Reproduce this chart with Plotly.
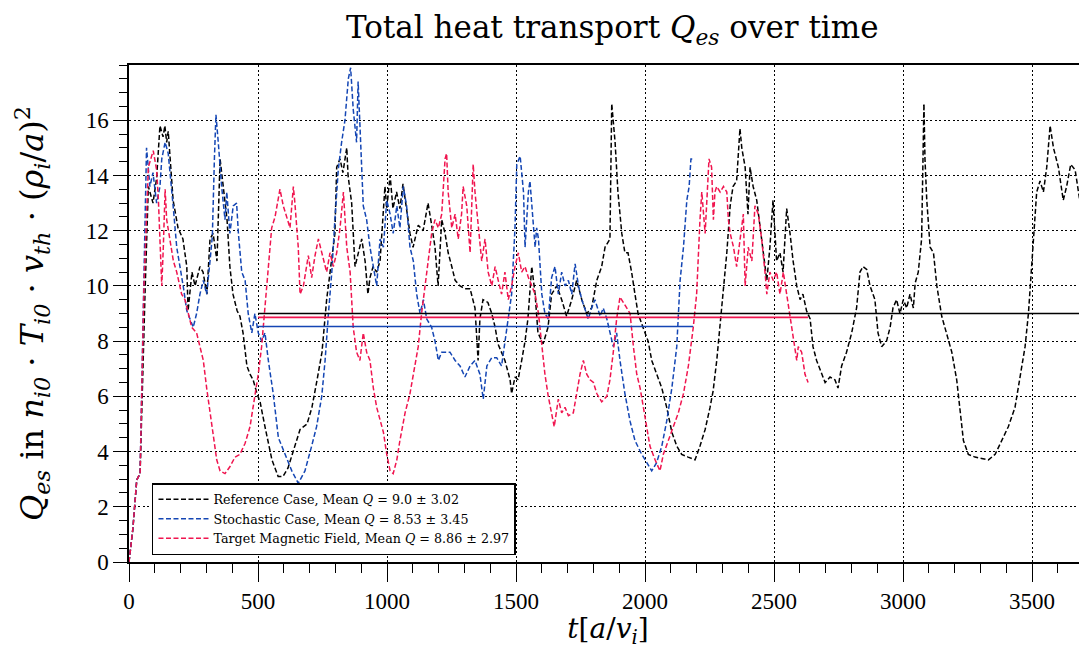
import plotly.graph_objects as go

# ---------------- data ----------------
ref_t = [0, 15, 30, 43, 62, 75, 93, 107, 120, 132, 139, 146, 152, 159, 171, 190, 209, 224, 229, 244, 256, 275, 287, 302, 314, 326, 341, 353, 364, 380, 391, 403, 419, 430, 442, 457, 469, 481, 496, 508, 527, 554, 578, 597, 616, 643, 663, 690, 709, 729, 748, 766, 779, 798, 805, 818, 829, 844, 849, 863, 876, 888, 902, 915, 926, 934, 946, 960, 973, 992, 999, 1012, 1023, 1037, 1050, 1062, 1076, 1089, 1101, 1121, 1140, 1159, 1173, 1186, 1198, 1212, 1225, 1237, 1251, 1264, 1283, 1302, 1322, 1341, 1353, 1360, 1372, 1391, 1406, 1419, 1430, 1444, 1457, 1477, 1483, 1496, 1508, 1522, 1535, 1546, 1561, 1574, 1585, 1605, 1624, 1638, 1658, 1677, 1696, 1716, 1735, 1755, 1774, 1793, 1813, 1832, 1845, 1864, 1871, 1884, 1895, 1910, 1922, 1934, 1948, 1961, 1973, 1992, 2012, 2026, 2045, 2065, 2084, 2104, 2123, 2142, 2167, 2194, 2213, 2233, 2252, 2264, 2278, 2291, 2302, 2317, 2330, 2341, 2355, 2368, 2375, 2388, 2399, 2407, 2419, 2433, 2446, 2457, 2472, 2484, 2496, 2510, 2523, 2535, 2549, 2562, 2574, 2588, 2601, 2612, 2626, 2640, 2651, 2665, 2685, 2698, 2717, 2736, 2748, 2762, 2781, 2801, 2820, 2833, 2845, 2859, 2872, 2891, 2903, 2917, 2936, 2950, 2961, 2975, 2988, 3001, 3014, 3027, 3040, 3047, 3059, 3072, 3081, 3085, 3092, 3105, 3118, 3131, 3150, 3169, 3189, 3208, 3221, 3234, 3253, 3279, 3305, 3331, 3357, 3383, 3408, 3434, 3453, 3473, 3486, 3495, 3505, 3518, 3531, 3544, 3557, 3570, 3583, 3602, 3621, 3634, 3650, 3667, 3680, 3693, 3698, 3709, 3716, 3725]
ref_q = [0, 1.2, 2.97, 3.2, 9.7, 13.6, 13.0, 13.9, 15.8, 15.4, 15.8, 15.2, 15.6, 14.6, 13.1, 12.1, 11.7, 10.7, 9.1, 10.5, 10.0, 10.7, 10.5, 9.7, 11.7, 11.9, 10.9, 14.6, 13.6, 12.4, 10.7, 9.7, 9.1, 8.9, 8.3, 7.1, 6.8, 6.6, 6.1, 5.8, 4.9, 3.7, 3.1, 3.1, 3.4, 4.2, 4.8, 5.0, 5.6, 6.6, 7.6, 9.5, 10.5, 11.9, 14.3, 14.6, 14.1, 15.0, 14.0, 13.0, 10.7, 11.2, 11.7, 10.9, 9.7, 10.3, 10.7, 10.5, 10.9, 13.6, 12.8, 14.0, 12.8, 13.4, 12.8, 13.7, 12.8, 11.9, 11.4, 12.2, 12.0, 13.0, 12.2, 11.4, 10.0, 12.4, 11.9, 11.2, 10.7, 10.2, 10.0, 9.9, 9.9, 9.2, 7.3, 8.8, 9.5, 9.4, 9.0, 8.5, 7.9, 7.6, 7.3, 6.6, 6.1, 6.7, 6.6, 7.3, 8.0, 8.8, 10.7, 9.7, 8.3, 7.9, 8.5, 9.7, 10.0, 9.5, 8.9, 9.5, 10.2, 9.5, 9.0, 9.2, 10.2, 10.7, 11.4, 11.7, 16.6, 15.2, 13.4, 11.9, 11.2, 11.2, 10.5, 9.7, 9.0, 8.5, 8.0, 7.3, 6.8, 6.3, 5.6, 4.7, 4.2, 3.9, 3.8, 3.7, 4.2, 4.8, 5.6, 6.2, 7.3, 8.5, 9.7, 11.2, 12.9, 13.6, 13.8, 15.7, 15.0, 14.3, 12.6, 14.3, 13.6, 13.1, 12.1, 11.4, 10.2, 11.4, 13.1, 10.9, 11.2, 10.5, 12.8, 11.9, 10.9, 10.0, 9.5, 9.7, 9.1, 8.8, 7.8, 7.3, 6.8, 6.5, 6.7, 6.6, 6.3, 7.1, 7.6, 8.3, 9.2, 10.5, 10.7, 10.6, 10.0, 9.5, 8.3, 7.8, 8.0, 8.5, 9.2, 9.5, 9.0, 9.5, 9.2, 9.7, 9.2, 10.1, 10.5, 11.7, 16.6, 14.6, 13.1, 11.4, 11.2, 10.0, 8.9, 8.3, 7.6, 6.6, 5.6, 4.4, 3.9, 3.8, 3.75, 3.7, 3.9, 4.4, 4.9, 5.6, 6.6, 7.8, 9.0, 10.2, 11.4, 13.4, 13.8, 13.4, 14.3, 15.8, 15.0, 14.3, 13.1, 13.6, 14.4, 14.2, 13.4, 12.6, 13.1, 12.1, 10.0, 9.5]

sto_t = [0, 15, 30, 43, 55, 68, 81, 93, 107, 120, 127, 140, 152, 159, 172, 185, 198, 210, 224, 236, 249, 262, 275, 288, 301, 314, 323, 331, 337, 346, 359, 372, 379, 391, 404, 417, 424, 437, 450, 462, 476, 488, 501, 514, 527, 540, 559, 579, 605, 631, 656, 682, 708, 727, 747, 760, 773, 786, 798, 811, 824, 837, 850, 859, 869, 882, 888, 895, 902, 908, 921, 934, 947, 960, 973, 986, 999, 1012, 1024, 1038, 1050, 1063, 1076, 1089, 1102, 1115, 1128, 1141, 1154, 1173, 1186, 1199, 1212, 1231, 1244, 1264, 1283, 1302, 1322, 1341, 1360, 1373, 1387, 1406, 1425, 1444, 1457, 1470, 1483, 1496, 1503, 1516, 1529, 1535, 1548, 1554, 1567, 1574, 1580, 1587, 1600, 1612, 1625, 1638, 1651, 1664, 1677, 1690, 1703, 1716, 1729, 1742, 1755, 1767, 1780, 1793, 1806, 1826, 1838, 1852, 1864, 1877, 1890, 1903, 1922, 1942, 1961, 1987, 2007, 2026, 2045, 2065, 2084, 2104, 2123, 2136, 2149, 2162, 2171, 2178, 2186]
sto_q = [0, 1.2, 2.97, 3.2, 9.0, 15.0, 13.6, 14.1, 13.0, 13.6, 14.6, 15.2, 14.8, 14.0, 12.8, 11.4, 10.7, 10.0, 9.1, 8.8, 8.5, 9.0, 9.7, 10.2, 9.7, 10.9, 11.8, 14.6, 16.2, 15.2, 13.6, 12.4, 13.4, 11.9, 12.9, 13.0, 11.9, 10.5, 10.2, 9.0, 8.3, 9.0, 8.3, 8.0, 8.3, 7.3, 6.1, 4.5, 3.9, 3.3, 2.85, 3.3, 4.2, 4.9, 6.0, 7.3, 9.0, 10.5, 12.4, 14.2, 15.2, 16.0, 17.5, 17.9, 16.4, 15.2, 17.4, 15.8, 14.6, 12.9, 12.4, 11.4, 10.7, 10.0, 11.7, 11.4, 13.1, 12.6, 11.9, 12.9, 12.1, 13.6, 12.9, 11.4, 10.9, 9.7, 9.0, 9.5, 8.8, 8.5, 8.0, 7.3, 7.6, 7.6, 7.6, 7.3, 7.1, 6.7, 7.1, 7.3, 6.8, 5.9, 7.1, 7.4, 7.4, 7.1, 8.0, 9.0, 9.7, 12.1, 14.4, 14.7, 13.4, 11.4, 13.4, 13.8, 12.4, 11.4, 12.1, 11.7, 9.7, 9.0, 8.8, 10.3, 10.7, 9.7, 10.5, 10.0, 10.2, 9.7, 10.8, 10.0, 9.5, 9.2, 8.8, 9.2, 9.5, 8.9, 9.2, 8.8, 8.3, 7.8, 8.3, 7.3, 6.1, 5.1, 4.4, 3.9, 3.6, 3.3, 3.6, 4.2, 5.1, 6.3, 7.8, 10.2, 11.4, 13.1, 13.6, 14.6, 14.6]

tgt_t = [0, 15, 30, 43, 58, 75, 94, 107, 114, 120, 127, 133, 140, 146, 159, 172, 185, 204, 217, 230, 243, 262, 275, 288, 301, 314, 327, 340, 353, 372, 391, 411, 430, 450, 469, 488, 501, 514, 527, 540, 553, 566, 579, 585, 598, 611, 624, 637, 643, 656, 663, 676, 689, 695, 708, 721, 734, 747, 753, 766, 779, 792, 805, 818, 831, 844, 857, 869, 882, 895, 908, 921, 934, 947, 960, 973, 986, 999, 1012, 1024, 1038, 1050, 1070, 1089, 1109, 1121, 1134, 1147, 1160, 1173, 1186, 1199, 1212, 1225, 1231, 1237, 1251, 1264, 1276, 1289, 1295, 1309, 1322, 1334, 1341, 1353, 1367, 1380, 1392, 1406, 1419, 1431, 1444, 1457, 1470, 1483, 1496, 1509, 1522, 1535, 1548, 1561, 1574, 1587, 1600, 1612, 1625, 1638, 1648, 1664, 1677, 1690, 1703, 1722, 1735, 1748, 1761, 1774, 1787, 1800, 1813, 1832, 1852, 1864, 1877, 1890, 1903, 1916, 1929, 1942, 1955, 1968, 1981, 1994, 2007, 2019, 2039, 2058, 2071, 2090, 2110, 2129, 2149, 2168, 2187, 2200, 2213, 2220, 2233, 2239, 2248, 2258, 2265, 2271, 2278, 2291, 2304, 2317, 2323, 2330, 2343, 2355, 2368, 2381, 2388, 2400, 2414, 2426, 2439, 2452, 2465, 2472, 2484, 2497, 2510, 2523, 2536, 2549, 2562, 2574, 2588, 2594, 2607, 2620, 2632]
tgt_q = [0, 1.2, 2.97, 3.2, 10.0, 14.3, 14.9, 14.2, 13.1, 11.4, 10.0, 11.4, 13.5, 12.4, 11.7, 10.9, 10.5, 9.7, 9.5, 9.0, 8.5, 8.3, 7.8, 7.3, 6.3, 5.4, 4.4, 3.7, 3.3, 3.2, 3.45, 3.8, 3.9, 4.3, 4.9, 6.0, 6.8, 7.8, 9.2, 10.9, 12.1, 12.5, 13.1, 13.5, 12.9, 12.5, 12.1, 13.6, 13.0, 11.4, 9.7, 10.0, 10.7, 11.1, 10.3, 11.1, 11.7, 11.2, 10.9, 10.5, 11.2, 10.7, 11.2, 12.1, 13.4, 11.4, 10.5, 8.5, 7.6, 7.3, 8.3, 7.6, 7.3, 6.3, 5.6, 5.1, 4.7, 3.9, 3.3, 3.2, 3.7, 4.4, 5.4, 6.1, 7.1, 7.8, 9.0, 10.0, 10.9, 11.9, 12.4, 12.1, 12.6, 14.6, 14.8, 13.4, 12.1, 12.6, 11.7, 12.6, 13.6, 12.9, 11.2, 14.4, 13.4, 12.1, 10.9, 11.7, 10.5, 10.0, 10.7, 10.2, 9.7, 10.5, 9.5, 10.0, 10.7, 11.2, 10.5, 10.7, 10.3, 10.0, 9.7, 9.0, 7.8, 6.8, 6.0, 5.4, 4.9, 5.9, 5.4, 5.6, 5.3, 5.4, 6.1, 6.8, 7.3, 6.8, 6.6, 6.5, 6.1, 5.8, 6.0, 6.6, 7.6, 8.8, 9.6, 9.4, 9.2, 9.0, 7.8, 6.8, 6.3, 5.6, 4.9, 4.2, 3.7, 3.3, 3.9, 4.4, 4.9, 5.4, 6.1, 7.1, 8.5, 9.7, 12.4, 13.4, 11.9, 12.9, 14.6, 14.3, 12.4, 13.4, 13.6, 13.4, 13.6, 13.4, 12.4, 11.9, 11.4, 10.7, 11.7, 12.6, 10.0, 11.4, 10.9, 12.9, 12.6, 11.7, 10.5, 9.7, 10.5, 10.2, 10.5, 9.7, 10.5, 9.7, 9.0, 8.3, 7.3, 7.8, 7.6, 6.8, 6.5]

names = ["Reference Case", "Stochastic Case", "Target Magnetic Field"]
means = [9.0, 8.53, 8.86]
stds = [3.02, 3.45, 2.97]
mean_start = 500
colors = ["#000000", "#1446b4", "#f0154f"]

x_ticks = [0, 500, 1000, 1500, 2000, 2500, 3000, 3500]
y_ticks = [0, 2, 4, 6, 8, 10, 12, 14, 16]

# ---------------- figure ----------------
SERIF = "DejaVu Serif, Liberation Serif, serif"
NUM = "Liberation Serif, DejaVu Serif, serif"
fig = go.Figure()

series = [(ref_t, ref_q), (sto_t, sto_q), (tgt_t, tgt_q)]
for (t, q), name, m, s, c in zip(series, names, means, stds, colors):
    fig.add_trace(go.Scatter(
        x=t, y=q, mode="lines",
        line=dict(color=c, width=1.5, dash="5px,2.5px"),
        name=f"{name}, Mean <i>Q</i> = {m} ± {s}",
    ))

for (t, q), m, c in zip(series, means, colors):
    fig.add_trace(go.Scatter(
        x=[mean_start, t[-1]], y=[m, m], mode="lines",
        line=dict(color=c, width=1.6), showlegend=False, hoverinfo="skip",
    ))

axis_common = dict(
    showline=True, linecolor="black", linewidth=1.5, mirror=True,
    ticks="outside", tickwidth=1.3, tickcolor="black",
    showgrid=True, gridcolor="black", gridwidth=1, griddash="2px,2.5px",
    zeroline=False, automargin=False,
    tickfont=dict(family=NUM, size=23, color="black"),
)

# the page body adds an 8px offset; margins compensate for it
fig.update_layout(
    width=1079, height=641,
    paper_bgcolor="white", plot_bgcolor="white",
    margin=dict(l=121, r=0, t=57, b=87, autoexpand=False),
    title=dict(
        text="Total heat transport <i>Q<sub>es</sub></i> over time",
        x=0.56, xanchor="center", y=0.97, yanchor="middle",
        font=dict(family=SERIF, size=31, color="black"),
    ),
    xaxis=dict(
        range=[0, 3713], tickvals=x_ticks, ticklen=18,
        minor=dict(dtick=100, tick0=0, ticks="outside", ticklen=9, tickwidth=1.1, tickcolor="black", showgrid=False),
        title=dict(text="<i>t</i>[<i>a</i>/<i>v<sub>i</sub></i>]",
                   font=dict(family=SERIF, size=28, color="black"), standoff=18),
        **axis_common,
    ),
    yaxis=dict(
        range=[0, 18], tickvals=y_ticks, ticklen=14,
        minor=dict(dtick=0.5, tick0=0, ticks="outside", ticklen=8, tickwidth=1.1, tickcolor="black", showgrid=False),
        title=dict(text="<i>Q<sub>es</sub></i> in <i>n<sub>i0</sub></i> · <i>T<sub>i0</sub></i> · <i>v<sub>th</sub></i> · (<i>ρ<sub>i</sub></i>/<i>a</i>)<sup>2</sup>",
                   font=dict(family=SERIF, size=32, color="black"), standoff=32),
        **axis_common,
    ),
    legend=dict(
        x=0.024, y=0.014, xanchor="left", yanchor="bottom",
        bgcolor="white", bordercolor="black", borderwidth=1.5,
        font=dict(family=SERIF, size=12.7, color="black"),
        tracegroupgap=0, itemwidth=50,
    ),
    showlegend=True,
)

fig.write_html("out.html")
